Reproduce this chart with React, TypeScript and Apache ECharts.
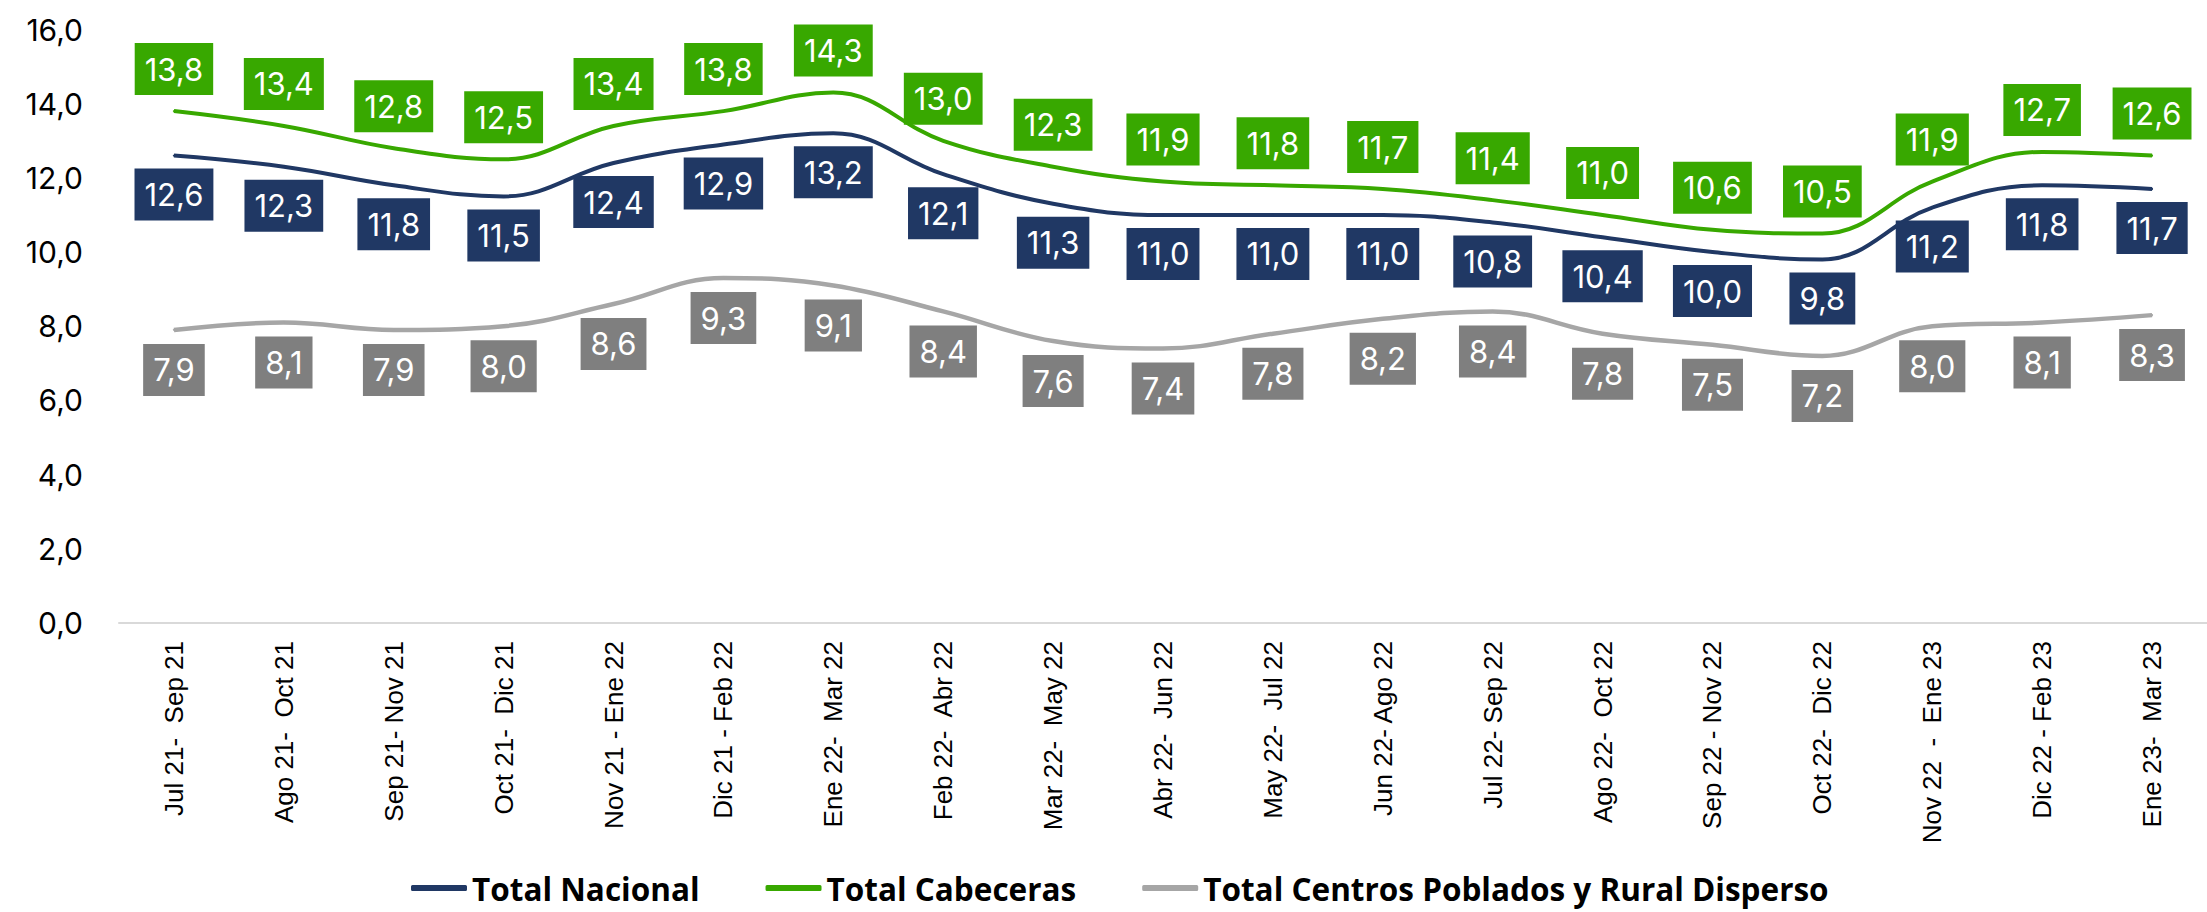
import React, { useEffect, useRef } from "react";
import * as echarts from "echarts";

const categories = [
  "Jul 21-  Sep 21",
  "Ago 21-  Oct 21",
  "Sep 21- Nov 21",
  "Oct 21-  Dic 21",
  "Nov 21 - Ene 22",
  "Dic 21 - Feb 22",
  "Ene 22-  Mar 22",
  "Feb 22-  Abr 22",
  "Mar 22-  May 22",
  "Abr 22-  Jun 22",
  "May 22-  Jul 22",
  "Jun 22- Ago 22",
  "Jul 22- Sep 22",
  "Ago 22-  Oct 22",
  "Sep 22 - Nov 22",
  "Oct 22-  Dic 22",
  "Nov 22  -  Ene 23",
  "Dic 22 - Feb 23",
  "Ene 23-  Mar 23",
];

const totalNacional = [12.6, 12.3, 11.8, 11.5, 12.4, 12.9, 13.2, 12.1, 11.3, 11.0, 11.0, 11.0, 10.8, 10.4, 10.0, 9.8, 11.2, 11.8, 11.7];
const totalCabeceras = [13.8, 13.4, 12.8, 12.5, 13.4, 13.8, 14.3, 13.0, 12.3, 11.9, 11.8, 11.7, 11.4, 11.0, 10.6, 10.5, 11.9, 12.7, 12.6];
const totalRural = [7.9, 8.1, 7.9, 8.0, 8.6, 9.3, 9.1, 8.4, 7.6, 7.4, 7.8, 8.2, 8.4, 7.8, 7.5, 7.2, 8.0, 8.1, 8.3];

const seriesNames = ["Total Nacional", "Total Cabeceras", "Total Centros Poblados y Rural Disperso"];

const NAVY = "#203864";
const GREEN = "#38A800";
const GRAY_LINE = "#A6A6A6";
const GRAY_BOX = "#7F7F7F";

const fmt = (v: number) => v.toFixed(1).replace(".", ",");
const LABEL_FONT = "Inter, 'Noto Sans', sans-serif";

function makeLabel(position: "top" | "bottom", bg: string, distance: number) {
  return {
    show: true,
    position,
    distance,
    formatter: (p: any) => fmt(p.value as number),
    color: "#ffffff",
    fontFamily: LABEL_FONT,
    fontSize: 31,
    lineHeight: 32,
    backgroundColor: bg,
    padding: [10, 10, 10, 10],
  };
}

export default function App() {
  const ref = useRef<HTMLDivElement>(null);

  useEffect(() => {
    document.body.style.margin = "0";
    if (!ref.current) return;
    const chart = echarts.init(ref.current, undefined, { renderer: "svg" });
    chart.setOption({
      animation: false,
      backgroundColor: "#ffffff",
      grid: { left: 119, top: 29.5, width: 2107, bottom: 289, containLabel: false },
      legend: {
        data: seriesNames,
        left: 406,
        top: 866,
        icon: "roundRect",
        itemWidth: 56,
        itemHeight: 6,
        itemGap: 66,
        textStyle: {
          fontFamily: "'Open Sans', sans-serif",
          fontWeight: "bold",
          fontSize: 31.5,
          lineHeight: 34,
          color: "#000000",
        },
      },
      xAxis: {
        type: "category",
        data: categories,
        boundaryGap: true,
        axisLine: { show: true, lineStyle: { color: "#D9D9D9", width: 2 } },
        axisTick: { show: false },
        axisLabel: {
          rotate: 90,
          margin: 18,
          interval: 0,
          fontFamily: "'Liberation Sans', Arial, sans-serif",
          fontSize: 26,
          color: "#000000",
        },
        splitLine: { show: false },
      },
      yAxis: {
        type: "value",
        min: 0,
        max: 16,
        interval: 2,
        axisLine: { show: false },
        axisTick: { show: false },
        splitLine: { show: false },
        axisLabel: {
          formatter: (v: number) => fmt(v),
          margin: 36,
          fontFamily: LABEL_FONT,
          fontSize: 30,
          color: "#000000",
        },
      },
      series: [
        {
          name: seriesNames[0],
          type: "line",
          data: totalNacional,
          smooth: 0.4,
          symbol: "circle",
          symbolSize: 2,
          color: NAVY,
          itemStyle: { color: NAVY },
          lineStyle: { color: NAVY, width: 4 },
          label: makeLabel("bottom", NAVY, 12),
          z: 3,
        },
        {
          name: seriesNames[1],
          type: "line",
          data: totalCabeceras,
          smooth: 0.4,
          symbol: "circle",
          symbolSize: 2,
          color: GREEN,
          itemStyle: { color: GREEN },
          lineStyle: { color: GREEN, width: 4 },
          label: makeLabel("top", GREEN, 15),
          z: 3,
        },
        {
          name: seriesNames[2],
          type: "line",
          data: totalRural,
          smooth: 0.4,
          symbol: "circle",
          symbolSize: 2,
          color: GRAY_LINE,
          itemStyle: { color: GRAY_LINE },
          lineStyle: { color: GRAY_LINE, width: 4.5 },
          label: makeLabel("bottom", GRAY_BOX, 13),
          z: 3,
        },
      ],
    });
    return () => chart.dispose();
  }, []);

  return <div ref={ref} style={{ width: 2207, height: 912 }} />;
}
